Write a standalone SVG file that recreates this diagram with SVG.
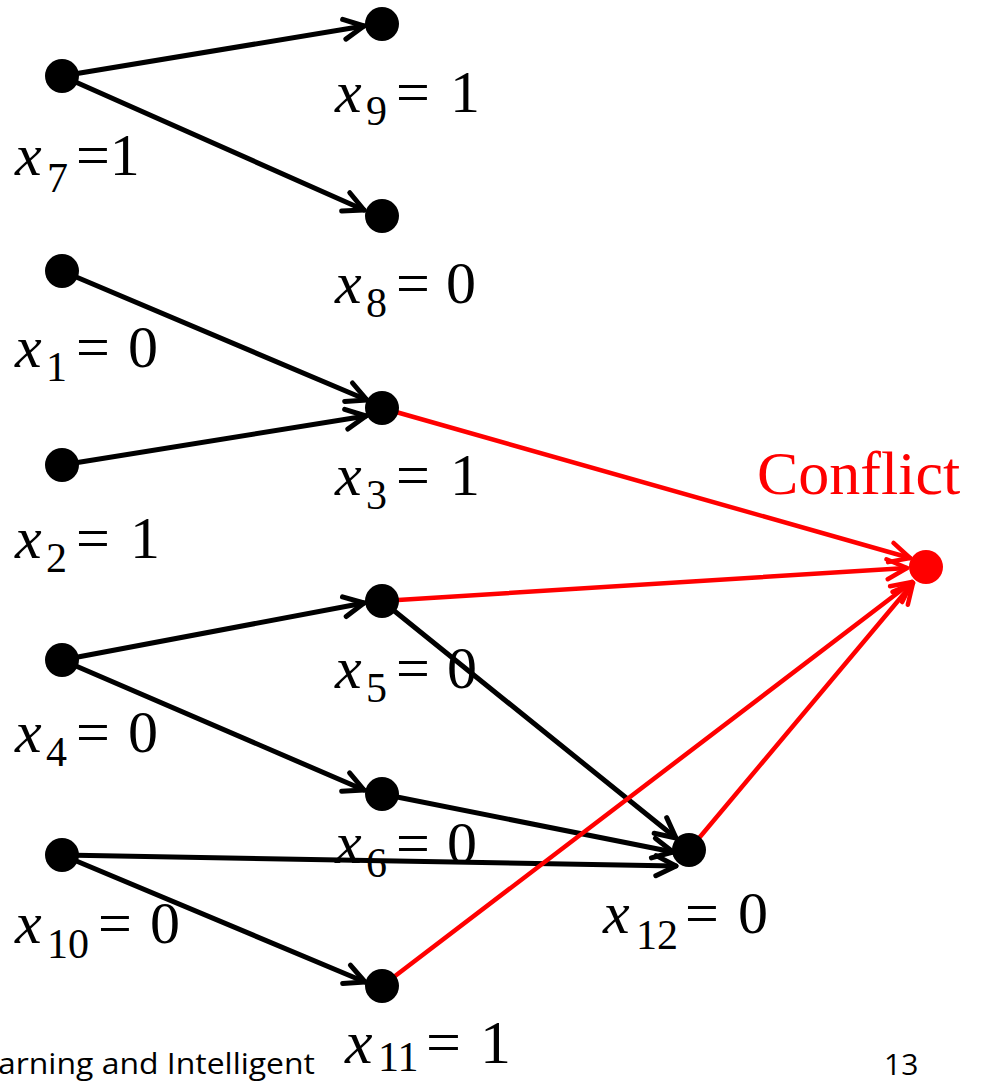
<svg xmlns="http://www.w3.org/2000/svg" width="981" height="1086" viewBox="0 0 981 1086">
<style>
.lbl{font-family:"Liberation Serif","Times New Roman",serif;font-size:60px;fill:#000}
.it{font-style:italic}
.sub{font-size:42px}
.edge{stroke:#000;stroke-width:5;fill:none;stroke-linecap:round;marker-end:url(#ah)}
.red{stroke:#FF0000;stroke-width:4.5;fill:none;stroke-linecap:round;marker-end:url(#ahr)}
.node{fill:#000}
.foot{font-family:"Open Sans","Liberation Sans",sans-serif;font-size:30px;fill:#000}
</style>
<defs>
<marker id="ah" markerUnits="userSpaceOnUse" viewBox="-25 -15 30 30" refX="0" refY="0" markerWidth="30" markerHeight="30" orient="auto" overflow="visible">
<path d="M-20,-10 L0,0 L-20,10" fill="none" stroke="#000" stroke-width="5" stroke-linecap="round" stroke-linejoin="round"/>
</marker>
<marker id="ahr" markerUnits="userSpaceOnUse" viewBox="-25 -15 30 30" refX="0" refY="0" markerWidth="30" markerHeight="30" orient="auto" overflow="visible">
<path d="M-20,-10 L0,0 L-20,10" fill="none" stroke="#FF0000" stroke-width="4.5" stroke-linecap="round" stroke-linejoin="round"/>
</marker>
</defs>
<rect width="981" height="1086" fill="#fff"/>
<g id="connectors">
<line class="edge" x1="62" y1="76" x2="364" y2="26"/>
<line class="edge" x1="62" y1="76" x2="364" y2="210"/>
<line class="edge" x1="62" y1="271" x2="367" y2="400"/>
<line class="edge" x1="62" y1="465" x2="366" y2="416"/>
<line class="edge" x1="62" y1="660" x2="364" y2="603"/>
<line class="edge" x1="62" y1="660" x2="364" y2="790"/>
<line class="edge" x1="382" y1="601" x2="676" y2="838"/>
<line class="edge" x1="382" y1="794" x2="673" y2="852"/>
<line class="edge" x1="62" y1="855" x2="676" y2="866"/>
<line class="edge" x1="62" y1="855" x2="365" y2="982"/>
<line class="red" x1="382" y1="408" x2="910" y2="558"/>
<line class="red" x1="382" y1="601" x2="907" y2="568"/>
<line class="red" x1="382" y1="986" x2="912" y2="582"/>
<line class="red" x1="689" y1="850" x2="913" y2="583"/>
</g>
<g id="n7"><circle class="node" cx="62" cy="76" r="17"/>
<text class="lbl" y="175"><tspan class="it" x="15">x</tspan><tspan class="sub" x="47" dy="17">7</tspan><tspan x="76" dy="-17">=1</tspan></text></g>
<g id="n9"><circle class="node" cx="382" cy="24" r="17"/>
<text class="lbl" y="112"><tspan class="it" x="335">x</tspan><tspan class="sub" x="366" dy="13">9</tspan><tspan x="396" dy="-13">=</tspan><tspan x="450">1</tspan></text></g>
<g id="n8"><circle class="node" cx="382" cy="216" r="17"/>
<text class="lbl" y="303"><tspan class="it" x="335">x</tspan><tspan class="sub" x="366" dy="14">8</tspan><tspan x="396" dy="-14">=</tspan><tspan x="446">0</tspan></text></g>
<g id="n1"><circle class="node" cx="62" cy="271" r="17"/>
<text class="lbl" y="367"><tspan class="it" x="15">x</tspan><tspan class="sub" x="46" dy="14">1</tspan><tspan x="76" dy="-14">=</tspan><tspan x="128">0</tspan></text></g>
<g id="n3"><circle class="node" cx="382" cy="408" r="17"/>
<text class="lbl" y="495"><tspan class="it" x="335">x</tspan><tspan class="sub" x="366" dy="14">3</tspan><tspan x="396" dy="-14">=</tspan><tspan x="450">1</tspan></text></g>
<g id="n2"><circle class="node" cx="62" cy="465" r="17"/>
<text class="lbl" y="558"><tspan class="it" x="15">x</tspan><tspan class="sub" x="46" dy="14">2</tspan><tspan x="76" dy="-14">=</tspan><tspan x="130">1</tspan></text></g>
<g id="n5"><circle class="node" cx="382" cy="601" r="17"/>
<text class="lbl" y="688"><tspan class="it" x="335">x</tspan><tspan class="sub" x="366" dy="14">5</tspan><tspan x="396" dy="-14">=</tspan><tspan x="447">0</tspan></text></g>
<g id="n4"><circle class="node" cx="62" cy="660" r="17"/>
<text class="lbl" y="752"><tspan class="it" x="15">x</tspan><tspan class="sub" x="46" dy="14">4</tspan><tspan x="76" dy="-14">=</tspan><tspan x="128">0</tspan></text></g>
<g id="n6"><circle class="node" cx="382" cy="794" r="17"/>
<text class="lbl" y="863"><tspan class="it" x="335">x</tspan><tspan class="sub" x="366" dy="14">6</tspan><tspan x="396" dy="-14">=</tspan><tspan x="447">0</tspan></text></g>
<g id="n10"><circle class="node" cx="62" cy="855" r="17"/>
<text class="lbl" y="943"><tspan class="it" x="15">x</tspan><tspan class="sub" x="47" dy="15">10</tspan><tspan x="98" dy="-15">=</tspan><tspan x="150">0</tspan></text></g>
<g id="n12"><circle class="node" cx="689" cy="850" r="17"/>
<text class="lbl" y="933"><tspan class="it" x="603">x</tspan><tspan class="sub" x="636" dy="16">12</tspan><tspan x="685" dy="-16">=</tspan><tspan x="738">0</tspan></text></g>
<g id="n11"><circle class="node" cx="382" cy="986" r="17"/>
<text class="lbl" y="1063" style="font-size:62px"><tspan class="it" x="345">x</tspan><tspan class="sub" x="378" dy="8">11</tspan><tspan x="426" dy="-8">=</tspan><tspan x="480">1</tspan></text></g>
<g id="conflict"><circle cx="926" cy="567" r="17" fill="#FF0000"/>
<text class="lbl" x="757" y="494" style="fill:#FF0000;font-size:62px">Conflict</text></g>
<g id="footer">
<text class="foot" x="-2" y="1074" textLength="317" lengthAdjust="spacingAndGlyphs">arning and Intelligent</text>
<text class="foot" x="884" y="1075">13</text>
</g>
</svg>
